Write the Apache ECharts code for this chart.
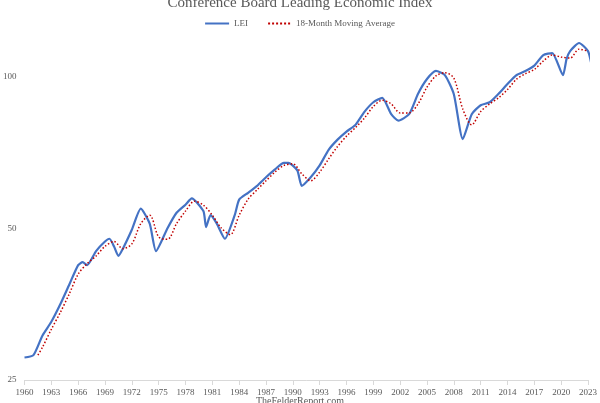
<!DOCTYPE html>
<html><head><meta charset="utf-8">
<script src="https://cdn.jsdelivr.net/npm/echarts@6/dist/echarts.min.js"></script>
<style>html,body{margin:0;padding:0;background:#fff}#c{width:600px;height:403px}</style>
</head><body><div id="c"></div>
<script>
const leiYears = [1960,1961,1962,1963,1964,1965,1966,1966.5,1967,1968,1969,1969.5,1970,1970.5,1971,1972,1973,1974,1974.7,1976,1977,1978,1978.7,1980,1980.3,1980.8,1981.5,1982.4,1983.5,1984,1985,1986,1987,1988,1989,1989.5,1990.5,1991,1992,1993,1994,1995,1996,1997,1998,1999,2000,2001,2001.8,2003,2004,2005,2006,2007,2008,2009,2010,2011,2012,2013,2014,2015,2016,2017,2018,2019,2020.2,2020.6,2021,2022,2023,2023.4];
const leiValues = [27.7,28,30.6,32.6,35.3,38.6,42.2,42.8,42.2,45,47,47.6,46,44,45.5,49.6,54.6,51,45,50,53.6,55.6,57.2,54,50.2,53,51,47.6,53,56.9,58.7,60.6,63,65.3,67.3,67.3,65,60.6,63,66.5,71.4,74.8,77.6,80,84.9,88.7,90.5,84,81.6,84,92.2,98.6,102.3,100.4,92,75,84,87.5,88.7,92.2,96.4,100.4,102.3,104.8,110,111,100.4,108,112,116.2,112,105];
const maYears = [1961.5,1962,1963,1964,1965,1966,1967,1968,1969,1970,1971,1972,1973,1974,1975,1976,1977,1978,1979,1980,1981,1982,1983,1984,1985,1986,1987,1988,1989,1990,1991,1992,1993,1994,1995,1996,1997,1998,1999,2000,2001,2002,2003,2004,2005,2006,2007,2008,2009,2010,2011,2012,2013,2014,2015,2016,2017,2018,2019,2020,2021,2022,2023];
const maValues = [28,29,31.5,34,37,40.5,42.5,44,46,47,45.5,46.5,51,53,48,47.5,51,54,56.5,55.5,53,50,48.5,53,57,59.5,62,64.5,66.5,67,64,62,64.5,68.5,72.5,76,79,82.5,87,89.5,88,84.5,84.5,88,95,100,101.5,99,86,80,85,88,90.5,94,98.5,101,103,107,110,109,108.5,113,112];
const yTicks = [25,50,100];
const pairs = (xs, ys) => xs.map((x, i) => [x, ys[i]]);
const font = "'Liberation Serif','DejaVu Serif',serif";
const chart = echarts.init(document.getElementById('c'));
chart.setOption({
  animation: false,
  textStyle: {fontFamily: font},
  title: {text: 'Conference Board Leading Economic Index', left: 'center', top: -9,
    textStyle: {fontFamily: font, fontSize: 15, fontWeight: 'normal', color: '#595959'}},
  legend: {top: 14, left: 'center', itemWidth: 24, itemHeight: 2, itemGap: 20,
    textStyle: {fontFamily: font, fontSize: 9, color: '#595959'},
    data: [{name: 'LEI', icon: 'rect'}, {name: '18-Month Moving Average', icon: 'path://M0,0h2v2h-2zM4,0h2v2h-2zM8,0h2v2h-2zM12,0h2v2h-2zM16,0h2v2h-2zM20,0h2v2h-2z'}]},
  graphic: [{type: 'text', left: 'center', top: 396, style: {text: 'TheFelderReport.com', fontFamily: font, fontSize: 10, fill: '#595959'}}],
  grid: {left: 24, right: 7, top: 27, bottom: 23},
  xAxis: {type: 'value', min: 1960, max: 2023, interval: 3, splitLine: {show: false},
    axisLine: {lineStyle: {color: '#d9d9d9'}}, axisTick: {show: true, lineStyle: {color: '#d9d9d9'}},
    axisLabel: {color: '#595959', fontSize: 9, fontFamily: font, formatter: v => String(v)}},
  yAxis: {type: 'log', logBase: 2, min: 25, max: 125, interval: 1, splitLine: {show: false},
    axisLine: {show: false}, axisTick: {show: false},
    axisLabel: {color: '#595959', fontSize: 9, fontFamily: font, showMaxLabel: false,
      formatter: v => yTicks.some(t => Math.abs(t - v) < 0.5) ? String(Math.round(v)) : ''}},
  series: [
    {name: 'LEI', type: 'line', data: pairs(leiYears, leiValues), showSymbol: false, smooth: 0.2,
      lineStyle: {color: '#4472c4', width: 2.2}, itemStyle: {color: '#4472c4'}},
    {name: '18-Month Moving Average', type: 'line', data: pairs(maYears, maValues), showSymbol: false, smooth: 0.3,
      lineStyle: {color: '#c00000', width: 1.5, type: [1.5, 2]}, itemStyle: {color: '#c00000'}}
  ]
});
</script></body></html>
